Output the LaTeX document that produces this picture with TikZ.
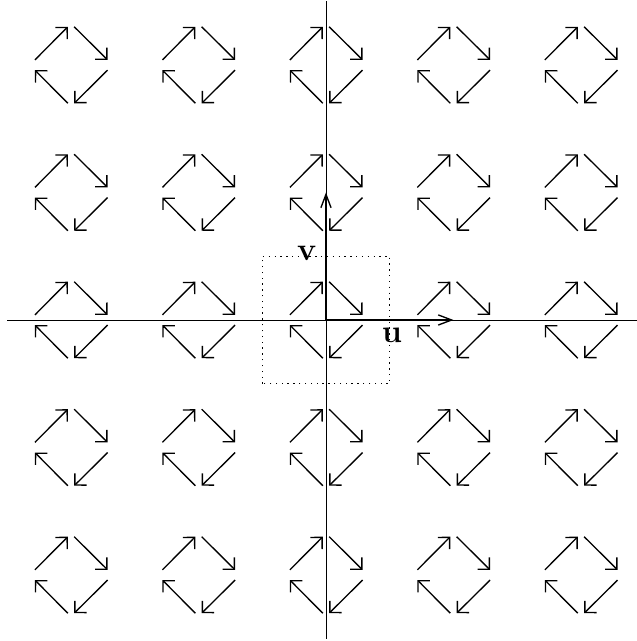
\documentclass[tikz,border=0pt]{standalone}
\usepackage{tikz}
\usetikzlibrary{arrows.meta}
\tikzset{
  cellarr/.style={-{Straight Barb[length=1.3mm, width=2.6mm]}, line width=0.6pt},
  axisline/.style={line width=0.4pt},
  basisarr/.style={-{Straight Barb[length=2.1mm, width=1.6mm]}, line width=0.6pt},
  gridbox/.style={dotted, line width=0.6pt},
  veclabel/.style={font=\Large},
}

\begin{document}
\begin{tikzpicture}[x=2cm, y=2cm]
    \useasboundingbox (-2.557,-2.518) rectangle (2.439,2.510);
    % axes
    \draw[axisline] (-2.5,0) coordinate (xl) -- (2.5,0) coordinate (xr);
    \draw[axisline] (0,-2.5) coordinate (yb) -- (0,2.5) coordinate (yt);
    % unit cell
    \draw[gridbox] (-0.5,-0.5) rectangle (0.5,0.5);
    % circulating arrows at each lattice point
    \foreach \i in {-2,...,2} {
      \foreach \j in {-2,...,2} {
        \draw[cellarr] (\i-0.283,\j+0.04) -- (\i-0.025,\j+0.3);
        \draw[cellarr] (\i+0.025,\j+0.3) -- (\i+0.287,\j+0.04);
        \draw[cellarr] (\i+0.287,\j-0.04) -- (\i+0.025,\j-0.3);
        \draw[cellarr] (\i-0.025,\j-0.3) -- (\i-0.283,\j-0.04);
      }
    }
    % basis vectors
    \coordinate (o) at (0,0);
    \coordinate (ue) at (1,0);
    \coordinate (ve) at (0,1);
    \draw[basisarr] (o) -- (ue);
    \draw[basisarr] (o) -- (ve);
    \node[veclabel] (ulab) at (0.518,-0.118) {$\mathbf{u}$};
    \node[veclabel] (vlab) at (-0.149,0.525) {$\mathbf{v}$};
  \end{tikzpicture}
\end{document}
